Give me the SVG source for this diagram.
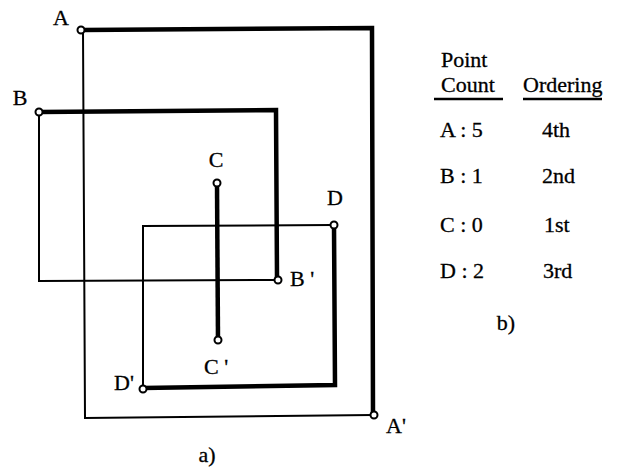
<svg xmlns="http://www.w3.org/2000/svg" width="622" height="468" viewBox="0 0 622 468">
<style>
text{font-family:"Liberation Serif","Times New Roman",serif;font-size:22px;fill:#000;stroke:#000;stroke-width:0.3}
.thin{stroke:#000;stroke-width:2;fill:none}
.thick{stroke:#000;stroke-width:4.5;fill:none}
.pt{fill:#fff;stroke:#000;stroke-width:2}
</style>
<rect width="622" height="468" fill="#fff"/>
<g id="connectors">
<polyline class="thin" points="83,31 85,418 373,415"/>
<polyline class="thick" points="83,30 372,28 373,414"/>
<polyline class="thin" points="39,113 39,281 278,280"/>
<polyline class="thick" points="40,112 276,110 277,278"/>
<line class="thick" x1="217" y1="184" x2="218" y2="340"/>
<polyline class="thin" points="333,225 143,226 143,388"/>
<polyline class="thick" points="334,225 335,385 143,388"/>
</g>
<g id="A"><circle class="pt" cx="81" cy="30" r="3.5"/><text x="61" y="25" text-anchor="middle">A</text></g>
<g id="A-prime"><circle class="pt" cx="374" cy="415" r="3.5"/><text x="386" y="433">A'</text></g>
<g id="B"><circle class="pt" cx="39" cy="112" r="3.5"/><text x="20" y="105" text-anchor="middle">B</text></g>
<g id="B-prime"><circle class="pt" cx="278" cy="280" r="3.5"/><text x="290" y="286">B '</text></g>
<g id="C"><circle class="pt" cx="217" cy="183" r="3.5"/><text x="216" y="167" text-anchor="middle">C</text></g>
<g id="C-prime"><circle class="pt" cx="218" cy="340" r="3.5"/><text x="204" y="374">C '</text></g>
<g id="D"><circle class="pt" cx="334" cy="225" r="3.5"/><text x="335" y="205" text-anchor="middle">D</text></g>
<g id="D-prime"><circle class="pt" cx="143" cy="389" r="3.5"/><text x="114" y="390">D'</text></g>
<text x="207" y="462" text-anchor="middle">a)</text>
<g id="table">
<text x="441" y="67">Point</text>
<text x="441" y="92">Count</text>
<line x1="434" y1="99" x2="503" y2="99" stroke="#000" stroke-width="2.5"/>
<text x="523" y="92">Ordering</text>
<line x1="523" y1="99" x2="602" y2="99" stroke="#000" stroke-width="2.5"/>
<text x="440" y="137">A : 5</text><text x="542" y="137">4th</text>
<text x="440" y="183">B : 1</text><text x="542" y="183">2nd</text>
<text x="440" y="232">C : 0</text><text x="544" y="232">1st</text>
<text x="440" y="278">D : 2</text><text x="543" y="278">3rd</text>
<text x="506" y="330" text-anchor="middle">b)</text>
</g>
</svg>
